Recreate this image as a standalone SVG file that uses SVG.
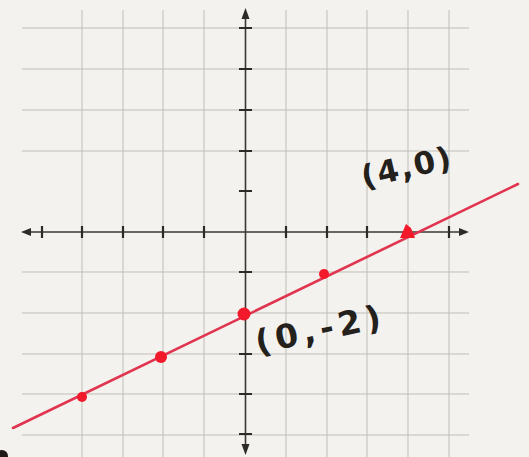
<svg xmlns="http://www.w3.org/2000/svg" width="529" height="457" viewBox="0 0 529 457">
<defs>
<style>
.grid{stroke:#c0bdb7;stroke-width:1;fill:none}
.axis{stroke:#3b3632;stroke-width:1.6;fill:none}
.tick{stroke:#2e2a26;stroke-width:2.2}
.arrow{fill:#2e2a26}
.plot{stroke:#e0344f;stroke-width:2.6;stroke-linecap:round}
.dot{fill:#f2192b}
.hand{font-family:"DejaVu Sans",sans-serif;font-weight:bold;fill:#24201c}
</style>
</defs>
<rect width="529" height="457" fill="#f4f2ee"/>
<g id="grid" class="grid">
<path d="M82 10V457M123 10V457M163 10V457M204 10V457M286 10V457M327 10V457M367 10V457M408 10V457M449 10V457"/>
<path d="M22 28H469M22 69H469M22 110H469M22 151H469M22 272H469M22 313H469M22 354H469M22 394H469M22 435H469"/>
</g>
<g id="axes">
<line class="axis" x1="28" y1="232" x2="462" y2="232"/>
<line class="axis" x1="245.5" y1="18" x2="245.5" y2="446"/>
<polygon class="arrow" points="21,232 31,228 31,236"/>
<polygon class="arrow" points="469,232 459,228 459,236"/>
<polygon class="arrow" points="245.5,8 241.5,19 249.5,19"/>
<polygon class="arrow" points="245.5,455 241.5,444 249.5,444"/>
<path class="tick" d="M42 226V238M82 226V238M123 226V238M163 226V238M204 226V238M286 226V238M327 226V238M367 226V238M449 226V238"/>
<path class="tick" d="M239 28H252M239 69H252M239 110H252M239 151H252M239 191H252M239 272H252M239 313H252M239 354H252M239 394H252M239 434H252"/>
</g>
<g id="connectors">
<line class="plot" x1="13" y1="428" x2="518" y2="184"/>
</g>
<g id="points">
<circle class="dot" cx="82" cy="397" r="5"/>
<circle class="dot" cx="161" cy="357" r="6"/>
<circle class="dot" cx="244" cy="314" r="6.5"/>
<circle class="dot" cx="324" cy="274" r="5"/>
<path class="dot" d="M400 238 L406 224 L411 228 L415 238 Z"/>
</g>
<g id="label-40">
<text class="hand" x="364" y="188" font-size="31" letter-spacing="2" transform="rotate(-13 364 188)">(4,0)</text>
</g>
<g id="label-0-2">
<text class="hand" x="258" y="354" font-size="33" letter-spacing="5" transform="rotate(-12 258 354)">(0,-2)</text>
</g>
<circle cx="2" cy="456" r="6" fill="#1e1a17"/>
</svg>
